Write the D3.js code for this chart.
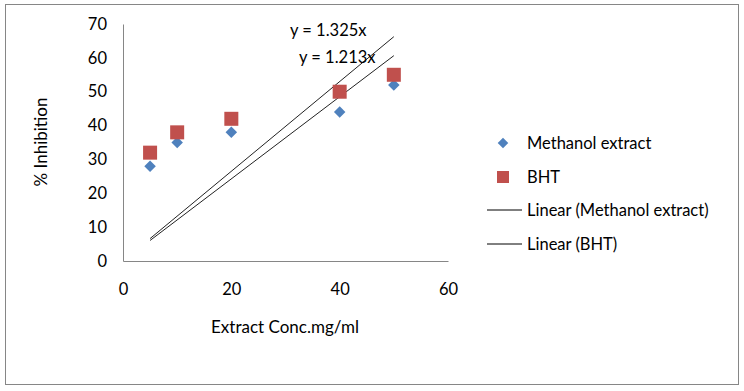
<!DOCTYPE html>
<html>
<head>
<meta charset="utf-8">
<script src="https://cdn.jsdelivr.net/npm/d3@7"></script>
<style>
  body { margin: 0; background: #fff; }
  text { font-family: "Lato", "Open Sans", sans-serif; fill: #000; }
</style>
</head>
<body>
<svg id="chart"></svg>
<script>
const WIDTH = 744;
const HEIGHT = 391;

// data
const concentrations = [5, 10, 20, 40, 50];
const methanolValues = [28, 35, 38, 44, 52];
const bhtValues = [32, 38, 42, 50, 55];
const slopes = { methanol: 1.213, bht: 1.325 };
const xTicks = [0, 20, 40, 60];
const yTicks = [0, 10, 20, 30, 40, 50, 60, 70];
const legendLabels = ["Methanol extract", "BHT", "Linear (Methanol extract)", "Linear (BHT)"];

const BLUE = "#4f81bd";
const RED = "#c0504d";
const FONT = "16.5px";

const svg = d3.select("#chart").attr("width", WIDTH).attr("height", HEIGHT);

// outer chart border
svg.append("rect")
  .attr("x", 5.5).attr("y", 4.5)
  .attr("width", 733).attr("height", 380)
  .attr("fill", "white").attr("stroke", "#868686").attr("stroke-width", 1);

const margin = { top: 24, left: 123, right: 448, bottom: 261 };

const xScale = d3.scaleLinear().domain([0, 60]).range([margin.left, margin.right]);
const yScale = d3.scaleLinear().domain([0, 70]).range([margin.bottom, margin.top]);

// axes without tick marks
const xAxis = svg.append("g")
  .attr("transform", `translate(0, ${margin.bottom})`)
  .call(d3.axisBottom(xScale).tickValues(xTicks).tickSize(0).tickPadding(22));
const yAxis = svg.append("g")
  .attr("transform", `translate(${margin.left}, 0)`)
  .call(d3.axisLeft(yScale).tickValues(yTicks).tickSize(0).tickPadding(16));

[xAxis, yAxis].forEach((g) => {
  g.select(".domain").attr("stroke", "#868686");
  g.selectAll("text").attr("font-size", FONT).attr("font-family", "Lato, sans-serif");
});

svg.append("text")
  .attr("x", 285).attr("y", 333)
  .attr("text-anchor", "middle")
  .attr("font-size", "17px")
  .text("Extract Conc.mg/ml");

svg.append("text")
  .attr("transform", "translate(47, 142) rotate(-90)")
  .attr("text-anchor", "middle")
  .attr("font-size", "17px")
  .text("% Inhibition");

// trendlines through origin, drawn over data range
const xMin = d3.min(concentrations);
const xMax = d3.max(concentrations);
const trends = [slopes.methanol, slopes.bht];
svg.append("g")
  .selectAll("line")
  .data(trends)
  .join("line")
  .attr("x1", xScale(xMin))
  .attr("y1", (s) => yScale(s * xMin))
  .attr("x2", xScale(xMax))
  .attr("y2", (s) => yScale(s * xMax))
  .attr("stroke", "#222")
  .attr("stroke-width", 1);

const methanol = concentrations.map((x, i) => ({ x, y: methanolValues[i] }));
const bht = concentrations.map((x, i) => ({ x, y: bhtValues[i] }));

const diamond = d3.symbol().type(d3.symbolSquare).size(66);

svg.append("g")
  .selectAll("path")
  .data(methanol)
  .join("path")
  .attr("d", diamond)
  .attr("transform", (d) => `translate(${xScale(d.x)}, ${yScale(d.y)}) rotate(45)`)
  .attr("fill", BLUE);

svg.append("g")
  .selectAll("rect")
  .data(bht)
  .join("rect")
  .attr("x", (d) => xScale(d.x) - 7)
  .attr("y", (d) => yScale(d.y) - 7)
  .attr("width", 14)
  .attr("height", 14)
  .attr("fill", RED);

// equation labels
svg.append("text")
  .attr("x", 290).attr("y", 36)
  .attr("font-size", FONT)
  .text(`y = ${slopes.bht}x`);
svg.append("text")
  .attr("x", 299).attr("y", 63)
  .attr("font-size", FONT)
  .text(`y = ${slopes.methanol}x`);

// legend
const legendY = [143, 177, 210, 244];
const legend = svg.append("g");
legend.append("path")
  .attr("d", d3.symbol().type(d3.symbolSquare).size(56))
  .attr("transform", `translate(503, ${legendY[0]}) rotate(45)`)
  .attr("fill", BLUE);
legend.append("rect")
  .attr("x", 497).attr("y", legendY[1] - 6)
  .attr("width", 12).attr("height", 12)
  .attr("fill", RED);
[legendY[2], legendY[3]].forEach((y) => {
  legend.append("line")
    .attr("x1", 487).attr("x2", 522)
    .attr("y1", y).attr("y2", y)
    .attr("stroke", "#000").attr("stroke-width", 1);
});
legend.selectAll("text")
  .data(legendLabels)
  .join("text")
  .attr("x", 527)
  .attr("y", (d, i) => legendY[i])
  .attr("dy", "0.35em")
  .attr("font-size", FONT)
  .text((d) => d);
</script>
</body>
</html>
